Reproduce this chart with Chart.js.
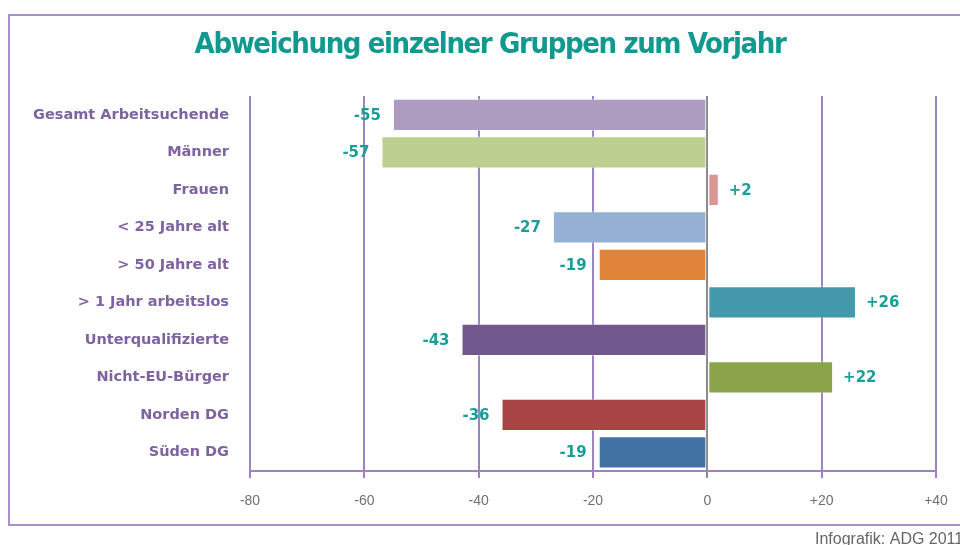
<!DOCTYPE html>
<html lang="de">
<head>
    <meta charset="UTF-8">
    <title>Abweichung einzelner Gruppen zum Vorjahr</title>
    <style>
        * { box-sizing: border-box; margin: 0; padding: 0; }
        body { background-color: #ffffff; }
        #wrap { width: 960px; height: 545px; }
    </style>
</head>
<body>
    <div id="wrap">
        <canvas id="chart" width="960" height="545"></canvas>
    </div>

    <script src="https://cdn.jsdelivr.net/npm/chart.js"></script>
    <script>
        // data
        const categories = [
            'Gesamt Arbeitsuchende', 'Männer', 'Frauen', '< 25 Jahre alt', '> 50 Jahre alt',
            '> 1 Jahr arbeitslos', 'Unterqualifizierte', 'Nicht-EU-Bürger', 'Norden DG', 'Süden DG'
        ];
        const values = [-55, -57, 2, -27, -19, 26, -43, 22, -36, -19];
        const barColors = [
            '#ae9cc0', '#bccf91', '#d99694', '#95b0d3', '#e0843a',
            '#4499ad', '#72598d', '#8ba44c', '#a84443', '#4272a4'
        ];
        const xTicks = [-80, -60, -40, -20, 0, 20, 40];
        const titleText = 'Abweichung einzelner Gruppen zum Vorjahr';
        const footerText = 'Infografik: ADG 2011';

        const teal = '#1a9e98';
        const purple = '#7f63a1';

        // frame, title, footer and value labels
        const extras = {
            id: 'extras',
            beforeDraw(chart) {
                const ctx = chart.ctx;
                ctx.save();
                ctx.strokeStyle = '#a891c8';
                ctx.lineWidth = 2;
                ctx.strokeRect(9, 15, 980, 510);

                ctx.font = 'bold 29px "DejaVu Sans Condensed", "DejaVu Sans", sans-serif';
                ctx.letterSpacing = '-1.4px';
                ctx.fillStyle = '#12998f';
                ctx.textAlign = 'center';
                ctx.textBaseline = 'middle';
                ctx.fillText(titleText, 490, 45);
                ctx.restore();
            },
            afterDatasetsDraw(chart) {
                const ctx = chart.ctx;
                const meta = chart.getDatasetMeta(0);
                ctx.save();
                ctx.font = 'bold 15px "DejaVu Sans", sans-serif';
                ctx.fillStyle = teal;
                ctx.textBaseline = 'middle';
                meta.data.forEach((bar, i) => {
                    const v = values[i];
                    if (v < 0) {
                        ctx.textAlign = 'right';
                        ctx.fillText(String(v), bar.x - 12, bar.y + 1);
                    } else {
                        ctx.textAlign = 'left';
                        ctx.fillText('+' + v, bar.x + 10, bar.y + 1);
                    }
                });
                ctx.restore();
            },
            afterDraw(chart) {
                const ctx = chart.ctx;
                ctx.save();
                ctx.font = '16px "Liberation Sans", Arial, sans-serif';
                ctx.fillStyle = '#666666';
                ctx.textAlign = 'left';
                ctx.textBaseline = 'alphabetic';
                ctx.fillText(footerText, 815, 544);
                ctx.restore();
            }
        };

        const ctx = document.getElementById('chart').getContext('2d');
        const chart = new Chart(ctx, {
            type: 'bar',
            data: {
                labels: categories,
                datasets: [{
                    data: values,
                    backgroundColor: barColors,
                    borderColor: 'rgba(255, 255, 255, 0.45)',
                    borderWidth: 1,
                    borderSkipped: false,
                    barPercentage: 0.86,
                    categoryPercentage: 1.0
                }]
            },
            options: {
                indexAxis: 'y',
                responsive: false,
                animation: false,
                layout: {
                    padding: { left: 0, right: 24, top: 96, bottom: 0 }
                },
                plugins: {
                    legend: { display: false },
                    tooltip: { enabled: false },
                    title: { display: false }
                },
                scales: {
                    x: {
                        min: -80,
                        max: 40,
                        afterBuildTicks(scale) {
                            scale.ticks = xTicks.map(v => ({ value: v }));
                        },
                        afterFit(scale) {
                            scale.height = 74;
                            scale.paddingLeft = 0;
                            scale.paddingRight = 0;
                        },
                        grid: {
                            color: ctx => (ctx.tick && ctx.tick.value === 0) ? '#8c8c8c' : '#9c84c2',
                            lineWidth: 2,
                            tickLength: 7,
                            drawTicks: true
                        },
                        border: { display: true, color: '#9c84c2', width: 2 },
                        ticks: {
                            color: '#707070',
                            font: { family: '"Liberation Sans", Arial, sans-serif', size: 14 },
                            padding: 15,
                            callback: v => v > 0 ? '+' + v : String(v)
                        }
                    },
                    y: {
                        afterFit(scale) {
                            scale.width = 250;
                        },
                        grid: { display: false, drawTicks: false },
                        border: { display: false },
                        ticks: {
                            color: purple,
                            font: { family: '"DejaVu Sans", sans-serif', size: 14.5, weight: 'bold' },
                            padding: 21
                        }
                    }
                }
            },
            plugins: [extras]
        });
    </script>
</body>
</html>
